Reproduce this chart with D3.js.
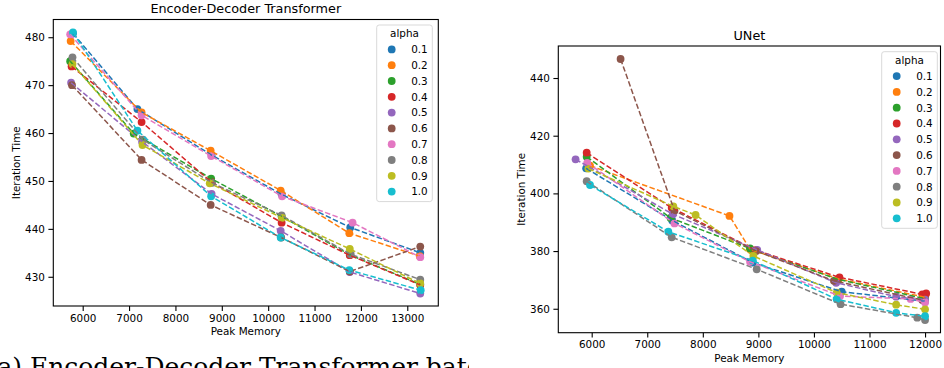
<!DOCTYPE html>
<html>
<head>
<meta charset="utf-8">
<script src="https://cdn.jsdelivr.net/npm/d3@7/dist/d3.min.js"></script>
<style>
  body { margin: 0; background: #fff; }
  svg { display: block; font-family: "DejaVu Sans", sans-serif; }
</style>
</head>
<body>
<svg id="chart" width="944" height="368"></svg>
<script>
// legend values (hue)
const alphas = ['0.1', '0.2', '0.3', '0.4', '0.5', '0.6', '0.7', '0.8', '0.9', '1.0'];
const palette = ['#1f77b4', '#ff7f0e', '#2ca02c', '#d62728', '#9467bd',
                 '#8c564b', '#e377c2', '#7f7f7f', '#bcbd22', '#17becf'];

// Encoder-Decoder Transformer: peak memory / iteration time, one row per alpha
const encMem = [
  [5790, 7180, 8780, 10290, 11770, 13280],
  [5740, 7270, 8760, 10270, 11750, 13270],
  [5730, 7100, 8770, 10290, 11760, 13280],
  [5760, 7270, 8770, 10290, 11760, 13280],
  [5750, 7280, 8780, 10270, 11760, 13280],
  [5770, 7270, 8760, 10280, 11760, 13280],
  [5730, 7270, 8770, 10300, 11820, 13280],
  [5780, 7300, 8790, 10290, 11780, 13280],
  [5780, 7290, 8740, 10300, 11760, 13280],
  [5790, 7180, 8770, 10270, 11750, 13290]
];
const encTime = [
  [480.8, 465.0, 455.4, 447.2, 440.3, 435.0],
  [479.2, 464.3, 456.3, 448.0, 439.1, 434.3],
  [475.0, 459.9, 450.5, 442.6, 434.6, 428.4],
  [473.9, 462.3, 449.8, 441.3, 434.5, 428.3],
  [470.5, 458.2, 447.3, 439.6, 431.0, 426.5],
  [470.0, 454.4, 445.0, 438.2, 431.1, 436.3],
  [480.6, 463.7, 455.2, 446.8, 441.3, 434.1],
  [475.8, 458.6, 449.6, 442.8, 434.7, 429.4],
  [474.4, 457.5, 449.5, 442.3, 435.8, 428.6],
  [481.0, 460.5, 446.8, 438.2, 431.4, 427.2]
];

// UNet
const unetMem = [
  [5900, 7450, 8900, 10500, 12000],
  [5970, 8480, 8850, 10450, 12000],
  [5910, 7420, 8850, 10430, 12000],
  [5910, 7440, 8950, 10460, 11950, 12020],
  [5710, 7460, 8980, 10400, 11480, 12000],
  [6520, 7490, 8960, 10360, 11950],
  [5920, 7490, 8850, 10470, 11740, 12000],
  [5910, 7440, 8970, 10480, 11860, 12000],
  [5940, 7470, 7870, 8910, 10410, 11480, 12000],
  [5970, 7380, 8900, 10410, 11480, 12000]
];
const unetTime = [
  [408.7, 390.6, 376.0, 365.9, 362.6],
  [409.6, 392.2, 380.6, 370.3, 364.0],
  [412.7, 391.5, 380.9, 370.2, 363.5],
  [414.1, 395.0, 380.3, 370.9, 365.0, 365.3],
  [411.8, 392.8, 380.4, 369.0, 364.2, 363.2],
  [446.6, 394.0, 380.0, 369.7, 363.0],
  [410.6, 389.6, 376.3, 364.4, 363.4, 362.2],
  [404.2, 384.8, 373.7, 361.6, 356.9, 356.1],
  [408.6, 395.5, 392.5, 378.3, 365.6, 361.4, 359.8],
  [402.9, 386.7, 376.7, 363.3, 358.6, 357.4]
];

const encXTicks = [6000, 7000, 8000, 9000, 10000, 11000, 12000, 13000];
const encYTicks = [430, 440, 450, 460, 470, 480];
const unetXTicks = [6000, 7000, 8000, 9000, 10000, 11000, 12000];
const unetYTicks = [360, 380, 400, 420, 440];

const caption = '(a) Encoder-Decoder Transformer batch size';

const svg = d3.select('#chart');

function drawPanel(cfg) {
  const { box, title, mem, time, xDomain, yDomain, xTicks, yTicks, legend } = cfg;

  const x = d3.scaleLinear().domain(xDomain).range([box.left, box.right]);
  const y = d3.scaleLinear().domain(yDomain).range([box.bottom, box.top]);

  const g = svg.append('g');

  // axes
  const xAxis = g.append('g')
    .attr('transform', `translate(0,${box.bottom})`)
    .call(d3.axisBottom(x).tickValues(xTicks).tickSize(4.9).tickPadding(3.5).tickFormat(d3.format('d')));
  const yAxis = g.append('g')
    .attr('transform', `translate(${box.left},0)`)
    .call(d3.axisLeft(y).tickValues(yTicks).tickSize(4.9).tickPadding(3.5).tickFormat(d3.format('d')));
  [xAxis, yAxis].forEach(a => {
    a.select('.domain').remove();
    a.selectAll('line').attr('stroke', '#000').attr('stroke-width', 1.1);
    a.selectAll('text')
      .style('font-family', '"DejaVu Sans", sans-serif')
      .style('font-size', '10.4px')
      .attr('fill', '#000');
  });

  // series: points first, then dashed lines
  mem.forEach((xs, i) => {
    const pts = xs.map((m, j) => ({ m, t: time[i][j] }));
    g.selectAll(null)
      .data(pts)
      .enter().append('circle')
      .attr('cx', d => x(d.m))
      .attr('cy', d => y(d.t))
      .attr('r', 3.9)
      .attr('fill', palette[i]);
  });
  mem.forEach((xs, i) => {
    const pts = xs.map((m, j) => ({ m, t: time[i][j] }));
    g.append('path')
      .datum(pts)
      .attr('fill', 'none')
      .attr('stroke', palette[i])
      .attr('stroke-width', 1.5)
      .attr('stroke-dasharray', '5.5,2.4')
      .attr('d', d3.line().x(d => x(d.m)).y(d => y(d.t)));
  });

  // frame
  g.append('rect')
    .attr('x', box.left).attr('y', box.top)
    .attr('width', box.right - box.left).attr('height', box.bottom - box.top)
    .attr('fill', 'none').attr('stroke', '#000').attr('stroke-width', 1.1);

  // labels
  g.append('text')
    .attr('x', (box.left + box.right) / 2).attr('y', box.top - 6.5)
    .attr('text-anchor', 'middle').style('font-size', '12.8px')
    .text(title);
  g.append('text')
    .attr('x', (box.left + box.right) / 2).attr('y', box.bottom + 29.3)
    .attr('text-anchor', 'middle').style('font-size', '10.4px')
    .text('Peak Memory');
  g.append('text')
    .attr('transform', `translate(${box.left - 33.3},${(box.top + box.bottom) / 2}) rotate(-90)`)
    .attr('text-anchor', 'middle').style('font-size', '10.4px')
    .text('Iteration Time');

  // legend
  const lg = g.append('g');
  lg.append('rect')
    .attr('x', legend.x).attr('y', legend.y)
    .attr('width', 55.6).attr('height', 176.6)
    .attr('rx', 2.5)
    .attr('fill', 'rgba(255,255,255,0.8)')
    .attr('stroke', '#d9d9d9').attr('stroke-width', 1);
  lg.append('text')
    .attr('x', legend.x + 27.8).attr('y', legend.y + 11.8)
    .attr('text-anchor', 'middle').style('font-size', '10.4px')
    .text('alpha');
  const rows = lg.selectAll('.row')
    .data(alphas)
    .enter().append('g')
    .attr('class', 'row')
    .attr('transform', (d, i) => `translate(0,${legend.y + 24.4 + i * 15.8})`);
  rows.append('circle')
    .attr('cx', legend.x + 15).attr('cy', 0).attr('r', 3.9)
    .attr('fill', (d, i) => palette[i]);
  rows.append('text')
    .attr('x', legend.x + 51).attr('y', 3.8)
    .attr('text-anchor', 'end').style('font-size', '10.4px')
    .text(d => d);
}

drawPanel({
  box: { left: 53.3, right: 438.3, top: 19.5, bottom: 306 },
  title: 'Encoder-Decoder Transformer',
  mem: encMem, time: encTime,
  xDomain: [5366, 13669], yDomain: [423.9, 483.7],
  xTicks: encXTicks, yTicks: encYTicks,
  legend: { x: 376.7, y: 25 }
});

drawPanel({
  box: { left: 558.3, right: 940.5, top: 46, bottom: 332.7 },
  title: 'UNet',
  mem: unetMem, time: unetTime,
  xDomain: [5399, 12278], yDomain: [351.7, 451.1],
  xTicks: unetXTicks, yTicks: unetYTicks,
  legend: { x: 881.7, y: 51.7 }
});

// sub-figure caption; the source figure is cropped so only its top shows,
// and it stops at the left panel's edge
svg.append('clipPath').attr('id', 'capclip')
  .append('rect').attr('x', 0).attr('y', 340).attr('width', 469).attr('height', 40);
const cap = svg.append('text')
  .attr('clip-path', 'url(#capclip)')
  .style('font-family', '"DejaVu Serif", "Liberation Serif", serif')
  .style('font-size', '20px')
  .text(caption);
// scale so "Encoder-Decoder Transformer bat" spans x 30..467
const iE = caption.indexOf('E');
const span = cap.node().getSubStringLength(iE, 'Encoder-Decoder Transformer bat'.length);
const capSize = 20 * 437 / span;
cap.style('font-size', capSize + 'px');
const pre = cap.node().getSubStringLength(0, iE);
cap.attr('x', 30 - pre).attr('y', 357 + 0.73 * capSize);
</script>
</body>
</html>
